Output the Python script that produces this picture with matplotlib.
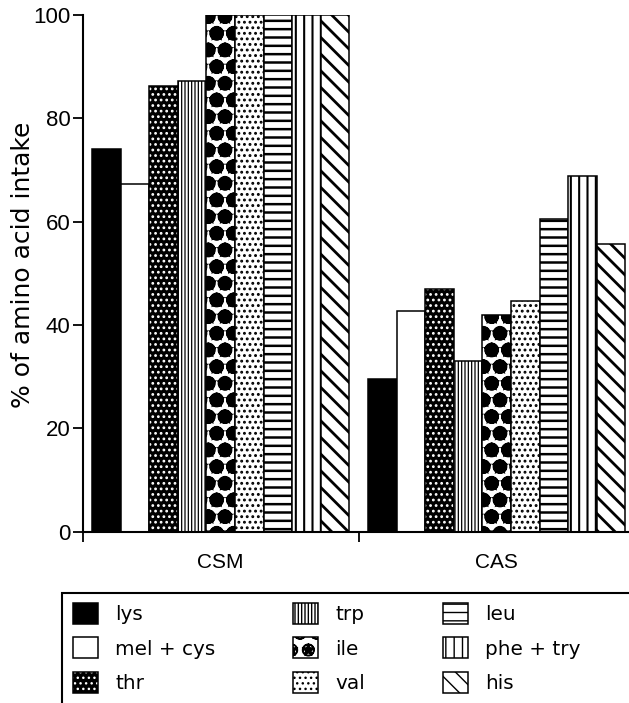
import matplotlib
matplotlib.use("Agg")
import matplotlib.pyplot as plt
from matplotlib.patches import Rectangle
from matplotlib.legend_handler import HandlerTuple

# ── data ──────────────────────────────────────────────────────────────────────
groups = ["CSM", "CAS"]
acids = ["lys", "mel + cys", "thr", "trp", "ile", "val", "leu", "phe + try", "his"]
csm = [74.0, 67.3, 86.2, 87.3, 100, 100, 100, 100, 100]
cas = [29.6, 42.8, 46.9, 33.1, 41.9, 44.6, 60.6, 68.9, 55.6]
yticks = [0, 20, 40, 60, 80, 100]

# face colour, hatch colour, hatch, hatch linewidth
STYLES = {
    "lys":       ("black", "black", None,     1.0),
    "mel + cys": ("white", "black", None,     1.0),
    "thr":       ("black", "white", "...",    1.2),
    "trp":       ("white", "black", "|||||",  0.9),
    "ile":       ("white", "black", "O*",     2.2),
    "val":       ("white", "black", "...",    1.3),
    "leu":       ("white", "black", "--",     1.8),
    "phe + try": ("white", "black", "||",     1.5),
    "his":       ("white", "black", "\\\\",   2.0),
}

GROUP_START = [0.0, 9.65]   # left edge of each group of 9 bars
XLIM = (-0.315, 18.78)

plt.rcParams["font.family"] = ["Liberation Sans", "DejaVu Sans"]

fig = plt.figure(figsize=(6.29, 7.03), dpi=100)
ax = fig.add_axes([83 / 629, 1 - 531.7 / 703, 546 / 629, 516.7 / 703])

handles = []
for i, acid in enumerate(acids):
    fc, hc, hatch, hlw = STYLES[acid]
    xs = [g + i + 0.5 for g in GROUP_START]
    hs = [csm[i], cas[i]]
    with plt.rc_context({"hatch.linewidth": hlw}):
        fill = ax.bar(xs, hs, width=1.0, color=fc, edgecolor=hc, hatch=hatch,
                      linewidth=0)
        for p in fill:
            if hasattr(p, "set_hatch_linewidth"):
                p.set_hatch_linewidth(hlw)
    edge = ax.bar(xs, hs, width=1.0, fill=False, edgecolor="black", linewidth=1.1)
    handles.append((fill, edge))

ax.set_xlim(*XLIM)
ax.set_ylim(0, 100)
for s in ("top", "right"):
    ax.spines[s].set_visible(False)
for s in ("left", "bottom"):
    ax.spines[s].set_linewidth(1.5)

ax.set_yticks(yticks)
ax.tick_params(axis="y", length=7, width=1.3, pad=2, labelsize=16)

centers = [g + 4.5 for g in GROUP_START]
ax.set_xticks(centers)
ax.set_xticklabels(groups, fontsize=15)
ax.set_xticks([XLIM[0], (9 + GROUP_START[1]) / 2], minor=True)
ax.tick_params(axis="x", which="major", length=0, pad=15)
ax.tick_params(axis="x", which="minor", length=7, width=1.3)

ax.text(-0.109, 0.516, "% of amino acid intake", transform=ax.transAxes,
        rotation=90, ha="center", va="center", fontsize=18, family="DejaVu Sans")

# legend box (runs off the right and bottom edges)
fig.add_artist(Rectangle((62 / 629, -0.05), 1.0, 0.05 + 1 - 593 / 703,
                         transform=fig.transFigure, fill=False,
                         edgecolor="black", linewidth=1.5, clip_on=False))

fig.legend(handles, acids, loc="upper left",
           bbox_to_anchor=(73 / 629, 1 - 603 / 703), ncol=3, frameon=False,
           borderpad=0, borderaxespad=0, handlelength=1.25, handleheight=1.25,
           handletextpad=0.85, columnspacing=3.9, labelspacing=0.65,
           prop={"family": "DejaVu Sans", "size": 14.4},
           handler_map={tuple: HandlerTuple(ndivide=1, pad=0)})

fig.savefig("out.png", dpi=100)
